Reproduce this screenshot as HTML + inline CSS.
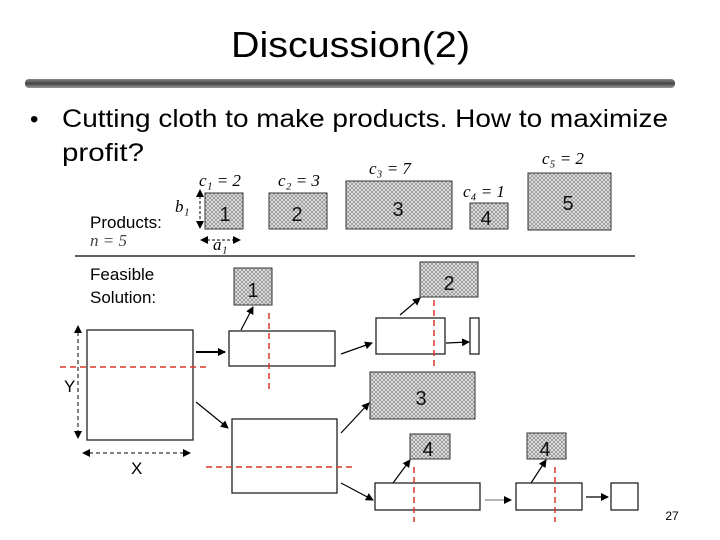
<!DOCTYPE html>
<html><head><meta charset="utf-8"><style>
body{margin:0;background:#fff;}
svg{display:block;}
.m{font-family:"Liberation Serif",serif;font-style:italic;font-size:17px;}
.s{font-family:"Liberation Sans",sans-serif;}
</style></head><body>
<svg width="720" height="540" viewBox="0 0 720 540" xmlns="http://www.w3.org/2000/svg">
<defs>
<pattern id="h" width="4" height="4" patternUnits="userSpaceOnUse">
<rect width="4" height="4" fill="#e4e4e4"/>
<path d="M0 4L4 0M0 0L4 4" stroke="#888" stroke-width="0.7"/>
</pattern>
<linearGradient id="bar" x1="0" y1="0" x2="0" y2="1">
<stop offset="0" stop-color="#888"/><stop offset="0.5" stop-color="#444"/><stop offset="1" stop-color="#999"/>
</linearGradient>
<marker id="a" markerWidth="8" markerHeight="8" refX="7" refY="4" orient="auto" markerUnits="userSpaceOnUse"><path d="M0 0L8 4L0 8z" fill="#000"/></marker>
<marker id="as" markerWidth="8" markerHeight="8" refX="1" refY="4" orient="auto-start-reverse" markerUnits="userSpaceOnUse"><path d="M0 0L8 4L0 8z" fill="#000"/></marker>
</defs>
<text x="231" y="57" class="s" font-size="36" textLength="239" lengthAdjust="spacingAndGlyphs">Discussion(2)</text>
<rect x="25" y="79" width="650" height="9" rx="4" fill="url(#bar)"/>
<text x="30" y="127" class="s" font-size="24">•</text>
<text x="62" y="127" class="s" font-size="25" textLength="606" lengthAdjust="spacingAndGlyphs">Cutting cloth to make products. How to maximize</text>
<text x="62" y="161" class="s" font-size="25" textLength="82" lengthAdjust="spacingAndGlyphs">profit?</text>

<g class="s" font-size="17">
<text x="90" y="228">Products:</text>
<text x="90" y="280">Feasible</text>
<text x="90" y="303">Solution:</text>
</g>
<text x="90" y="246" class="m" font-size="15" fill="#444">n = 5</text>
<text x="199" y="186" class="m" font-size="15">c₁ = 2</text>
<text x="278" y="186" class="m" font-size="15">c₂ = 3</text>
<text x="369" y="174" class="m" font-size="15">c₃ = 7</text>
<text x="463" y="197" class="m" font-size="15">c₄ = 1</text>
<text x="542" y="164" class="m" font-size="15">c₅ = 2</text>
<text x="175" y="212" class="m" font-size="18">b₁</text>
<text x="213" y="250" class="m" font-size="18">a₁</text>
<line x1="75" y1="256" x2="635" y2="256" stroke="#000" stroke-width="1.2"/>

<g fill="url(#h)" stroke="#333" stroke-width="1">
<rect x="205" y="193" width="38" height="36"/>
<rect x="269" y="193" width="58" height="36"/>
<rect x="346" y="181" width="106" height="48"/>
<rect x="470" y="203" width="38" height="26"/>
<rect x="528" y="173" width="83" height="57"/>
<rect x="234" y="268" width="38" height="37"/>
<rect x="420" y="262" width="58" height="35"/>
<rect x="370" y="372" width="105" height="47"/>
<rect x="410" y="434" width="40" height="25"/>
<rect x="527" y="433" width="39" height="26"/>
</g>
<g class="s" font-size="20" text-anchor="middle" fill="#111">
<text x="225" y="221">1</text><text x="297" y="221">2</text><text x="398" y="216">3</text>
<text x="486" y="225">4</text><text x="568" y="210">5</text>
<text x="253" y="297">1</text><text x="449" y="290">2</text><text x="421" y="405">3</text>
<text x="428" y="456">4</text><text x="545" y="456">4</text>
</g>
<line x1="200" y1="196" x2="200" y2="228" stroke="#000" stroke-dasharray="3,2" marker-start="url(#as)" marker-end="url(#a)"/>
<line x1="207" y1="240" x2="240" y2="240" stroke="#000" stroke-dasharray="3,2" marker-start="url(#as)" marker-end="url(#a)"/>

<g fill="#fff" stroke="#222" stroke-width="1.3">
<rect x="87" y="330" width="106" height="110"/>
<rect x="229" y="331" width="106" height="35"/>
<rect x="376" y="318" width="69" height="36"/>
<rect x="470" y="318" width="9" height="36"/>
<rect x="232" y="419" width="105" height="74"/>
<rect x="375" y="483" width="105" height="27"/>
<rect x="516" y="483" width="66" height="27"/>
<rect x="611" y="483" width="27" height="27"/>
</g>
<g stroke="#d9362b" stroke-width="1.5" stroke-dasharray="6,4" fill="none">
<line x1="60" y1="367" x2="210" y2="367"/>
<line x1="269" y1="313" x2="269" y2="392"/>
<line x1="434" y1="300" x2="434" y2="366"/>
<line x1="206" y1="467" x2="356" y2="467"/>
<line x1="414" y1="467" x2="414" y2="522"/>
<line x1="555" y1="467" x2="555" y2="522"/>
</g>
<line x1="78" y1="332" x2="78" y2="438" stroke="#000" stroke-dasharray="4,3" marker-start="url(#as)" marker-end="url(#a)"/>
<line x1="89" y1="453" x2="190" y2="453" stroke="#000" stroke-dasharray="4,3" marker-start="url(#as)" marker-end="url(#a)"/>
<text x="64" y="392" class="s" font-size="17">Y</text>
<text x="131" y="474" class="s" font-size="17">X</text>
<g stroke="#000" stroke-width="1.2" fill="none" marker-end="url(#a)">
<line x1="196" y1="352" x2="225" y2="352" stroke-width="2"/>
<line x1="241" y1="330" x2="253" y2="307"/>
<line x1="341" y1="354" x2="372" y2="343"/>
<line x1="400" y1="315" x2="420" y2="298"/>
<line x1="446" y1="343" x2="469" y2="342"/>
<line x1="196" y1="402" x2="228" y2="428"/>
<line x1="341" y1="433" x2="369" y2="403"/>
<line x1="341" y1="483" x2="373" y2="500"/>
<line x1="393" y1="483" x2="410" y2="460"/>
<line x1="485" y1="500" x2="511" y2="500" stroke="#888"/>
<line x1="531" y1="483" x2="546" y2="460"/>
<line x1="586" y1="497" x2="608" y2="497"/>
</g>
<text x="672" y="520" class="s" font-size="12" text-anchor="middle">27</text>
</svg>
</body></html>
